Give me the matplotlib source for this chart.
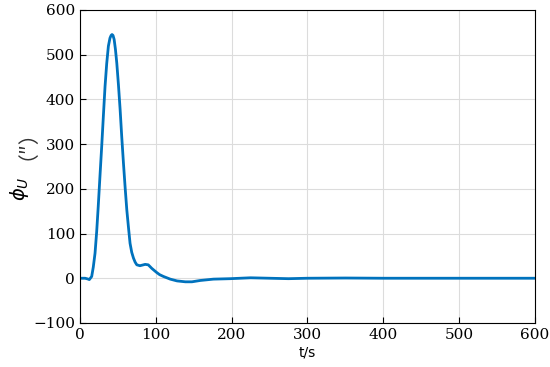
import matplotlib.pyplot as plt

# curve
t = [0, 6.6, 10, 12.3, 15.4, 17.5, 19.8, 22, 24, 26.3, 28.6, 30.8, 33, 35.2, 37.4,
     39.5, 41, 42.2, 43.5, 45, 46.7, 48.5, 50.7, 52.9, 55, 57.3, 59.5, 61.7,
     64, 66, 68.2, 70.5, 72.7, 74.9, 79, 82.5, 85.9, 90, 94.7, 101, 105, 110,
     119, 128, 139, 147.6, 158.6, 176, 198, 225, 250, 275, 300, 350, 400, 450,
     500, 550, 600]
phi = [0, 0, -1.5, -3, 4, 25, 56, 105, 160, 228, 295, 363, 429, 480, 519,
       537, 543, 545, 543, 534, 512, 481, 432, 377, 317, 257, 203, 153,
       112, 78, 58, 45, 36, 30, 28, 29.5, 31, 30, 22, 13, 8, 4,
       -2, -6, -8, -8, -5, -2, -1, 1, 0, -1, 0, 0.5, 0, 0,
       0, 0, 0]

xticks = [0, 100, 200, 300, 400, 500, 600]
yticks = [-100, 0, 100, 200, 300, 400, 500, 600]

fig = plt.figure(figsize=(5.5, 3.67), dpi=100)
ax = fig.add_axes([0.1455, 0.12, 0.827, 0.853])
ax.plot(t, phi, color='#0072BD', lw=2)
ax.set_xlim(0, 600)
ax.set_ylim(-100, 600)
ax.set_xticks(xticks)
ax.set_yticks(yticks)
ax.set_yticklabels(['\u2212100' if v < 0 else str(v) for v in yticks])
ax.grid(True, color='#dcdcdc', lw=0.8)
ax.tick_params(direction='in', labelsize=11, length=4, width=0.8)
for lab in ax.get_xticklabels() + ax.get_yticklabels():
    lab.set_family('DejaVu Serif')
for s in ax.spines.values():
    s.set_linewidth(0.8)
ax.set_xlabel('t/s', fontsize=10, labelpad=3)

# y label: phi_U plus (″) in pieces so the fonts fall back properly
fig.text(0.035, 0.485, '$\\phi_U$', fontsize=14, rotation=90,
         ha='center', va='center')
fig.text(0.03, 0.635, '\uff08\u2033\uff09', fontsize=15, rotation=90,
         ha='center', va='center', family=['Noto Sans CJK SC', 'DejaVu Sans'],
         color='#333333')
fig.savefig('out.png', dpi=100)
